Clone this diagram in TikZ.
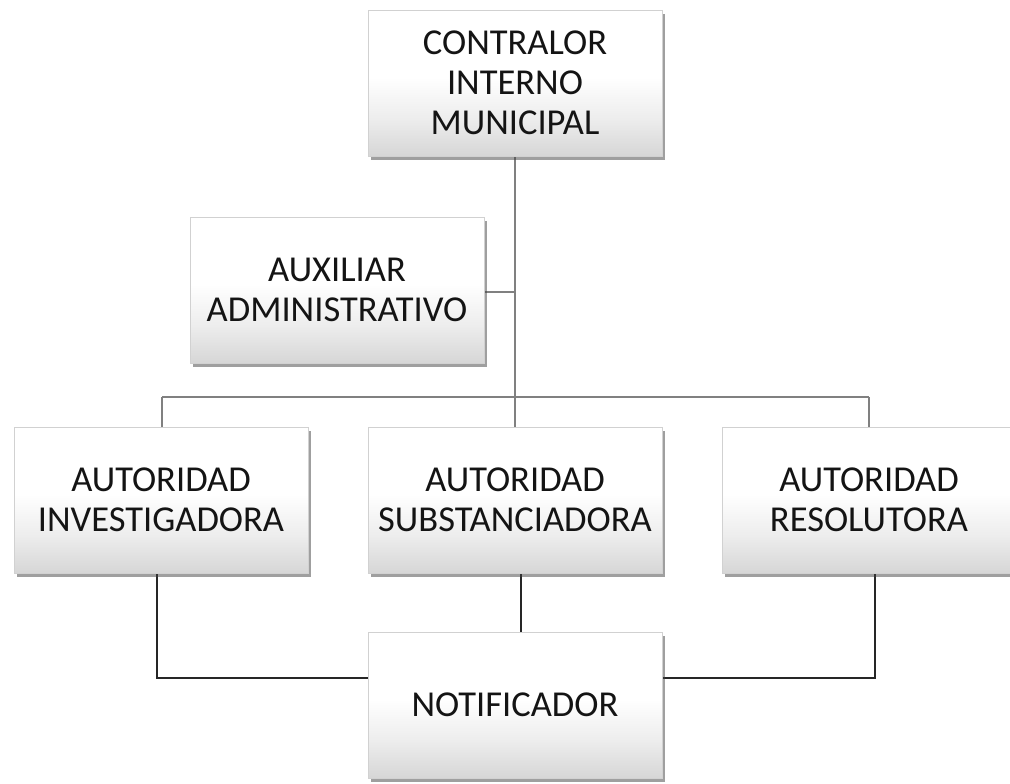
\documentclass[tikz,border=0pt]{standalone}
\usepackage{fontspec}
\setmainfont{Carlito}
\usetikzlibrary{shadows}
\pgfdeclareverticalshading{boxfade}{100bp}{color(0bp)=(black!16); color(25bp)=(black!16);
  color(38bp)=(black!7); color(52bp)=(white); color(100bp)=(white)}
\begin{document}
\begin{tikzpicture}[x=1pt, y=-1pt,
  unitbox/.style={draw=black!18, line width=0.8pt, minimum width=294pt, minimum height=146pt,
    shading=boxfade,
    drop shadow={shadow xshift=3pt, shadow yshift=-4pt, opacity=0.5, fill=black!75},
    align=center, text=black!92, font=\fontsize{36.5}{40}\selectfont, inner sep=0pt},
  upline/.style={draw=black!50, line width=1.8pt},
  lowline/.style={draw=black!85, line width=1.8pt}]
  \useasboundingbox (0,0) rectangle (1010,784);
  % linea superior
  \coordinate (hub) at (515,397);
  \coordinate (hubL) at (162,397);
  \coordinate (hubR) at (869,397);
  \coordinate (auxJ) at (515,292);
  \coordinate (notL) at (157,678);
  \coordinate (notR) at (875,678);
  \draw[upline] (515,157) -- (hub);
  \draw[upline] (hubL) -- (hubR);
  \draw[upline] (484,292) -- (auxJ);
  \draw[upline] (hubL) -- (162,427);
  \draw[upline] (hub) -- (515,427);
  \draw[upline] (hubR) -- (869,427);
  % linea inferior
  \draw[lowline] (157,572) -- (notL) -- (368,678);
  \draw[lowline] (521,572) -- (521,633);
  \draw[lowline] (875,572) -- (notR) -- (662,678);
  % cajas
  \node[unitbox] (cim) at (515,83) {CONTRALOR\\INTERNO\\MUNICIPAL};
  \node[unitbox] (aux) at (337,290) {AUXILIAR\\ADMINISTRATIVO};
  \node[unitbox] (inv) at (161,500) {AUTORIDAD\\INVESTIGADORA};
  \node[unitbox] (sub) at (515,500) {AUTORIDAD\\SUBSTANCIADORA};
  \node[unitbox] (res) at (869,500) {AUTORIDAD\\RESOLUTORA};
  \node[unitbox] (notif) at (515,705) {NOTIFICADOR};
\end{tikzpicture}
\end{document}
